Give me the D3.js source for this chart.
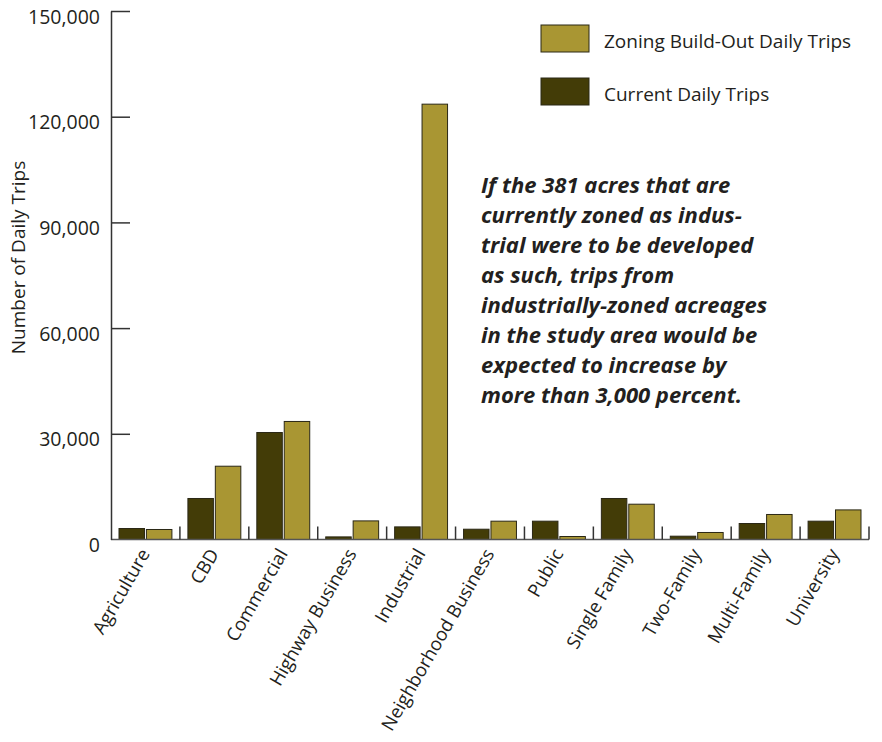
<!DOCTYPE html>
<html>
<head>
<meta charset="utf-8">
<script src="https://cdn.jsdelivr.net/npm/d3@7/dist/d3.min.js"></script>
<style>
  html, body { margin: 0; padding: 0; background: #fff; }
  svg { display: block; }
  text { font-family: "Open Sans", "Noto Sans", sans-serif; fill: #231f20; }
</style>
</head>
<body>
<svg id="chart" width="882" height="742"></svg>
<script>
const categories = ["Agriculture", "CBD", "Commercial", "Highway Business", "Industrial",
  "Neighborhood Business", "Public", "Single Family", "Two-Family", "Multi-Family", "University"];
const currentTrips = [3120, 11640, 30370, 740, 3580, 2920, 5200, 11640, 940, 4540, 5200];
const buildOutTrips = [2840, 20800, 33500, 5280, 123560, 5200, 850, 10020, 1990, 7100, 8400];
const seriesNames = ["Current Daily Trips", "Zoning Build-Out Daily Trips"];
const yTicks = [0, 30000, 60000, 90000, 120000, 150000];
const yTitle = "Number of Daily Trips";
const noteLines = [
  "If the 381 acres that are",
  "currently zoned as indus-",
  "trial were to be developed",
  "as such, trips from",
  "industrially-zoned acreages",
  "in the study area would be",
  "expected to increase by",
  "more than 3,000 percent."
];

const colors = { "Current Daily Trips": "#433c07", "Zoning Build-Out Daily Trips": "#a99633" };

const svg = d3.select("#chart");
const mLeft = 111, mRight = 869, mTop = 11, mBottom = 539.5;

const x = d3.scaleBand().domain(categories).range([mLeft, mRight]).padding(0);
const xs = d3.scaleBand().domain(seriesNames).range([8, x.bandwidth() - 8]).paddingInner(0.07);
const y = d3.scaleLinear().domain([0, 150000]).range([mBottom, mTop]);

const rows = categories.map((c, i) => ({ cat: c, values: [
  { key: seriesNames[0], v: currentTrips[i] },
  { key: seriesNames[1], v: buildOutTrips[i] }
]}));

// bars
const g = svg.append("g");
g.selectAll("g.cat").data(rows).join("g")
  .attr("class", "cat")
  .attr("transform", d => `translate(${x(d.cat)},0)`)
  .selectAll("rect").data(d => d.values).join("rect")
  .attr("x", d => xs(d.key))
  .attr("width", xs.bandwidth())
  .attr("y", d => y(d.v))
  .attr("height", d => y(0) - y(d.v))
  .attr("fill", d => colors[d.key])
  .attr("stroke", "#2b2816")
  .attr("stroke-width", 1);

// x axis baseline
svg.append("line").attr("x1", mLeft).attr("x2", mRight).attr("y1", mBottom).attr("y2", mBottom)
  .attr("stroke", "#555").attr("stroke-width", 1.5);
// x category separator ticks (upward)
svg.selectAll("line.xt").data(categories).join("line").attr("class", "xt")
  .attr("x1", d => x(d) + x.bandwidth()).attr("x2", d => x(d) + x.bandwidth())
  .attr("y1", mBottom).attr("y2", mBottom - 13)
  .attr("stroke", "#333").attr("stroke-width", 1.5);

// x labels
svg.selectAll("text.xl").data(categories).join("text").attr("class", "xl")
  .attr("transform", d => `translate(${x(d) + x.bandwidth() / 2 + 5},${mBottom + 14}) rotate(-60)`)
  .attr("text-anchor", "end")
  .style("font-size", "18.5px")
  .text(d => d);

// y axis
const yAxis = d3.axisLeft(y).tickValues(yTicks).tickSizeInner(-19).tickSizeOuter(0).tickPadding(11)
  .tickFormat(d3.format(","));
const ya = svg.append("g").attr("transform", `translate(${mLeft},0)`).call(yAxis);
ya.select(".domain").attr("stroke", "#333").attr("stroke-width", 1.5);
ya.selectAll(".tick line").attr("stroke", "#333").attr("stroke-width", 1.5);
ya.selectAll(".tick text").style("font-size", "19.5px").style("font-family", "'Open Sans', sans-serif")
  .attr("fill", "#231f20").attr("dy", "0.62em");
ya.selectAll(".tick").filter(d => d === 0).select("line").remove();

// y title
svg.append("text")
  .attr("transform", `translate(25,257.5) rotate(-90)`)
  .attr("text-anchor", "middle")
  .style("font-size", "19px")
  .text(yTitle);

// legend (gold first, then dark)
const legendOrder = [seriesNames[1], seriesNames[0]];
const lg = svg.selectAll("g.lg").data(legendOrder).join("g").attr("class", "lg")
  .attr("transform", (d, i) => `translate(541,${25 + i * 53})`);
lg.append("rect").attr("width", 48).attr("height", 27)
  .attr("fill", d => colors[d]).attr("stroke", "#2b2816").attr("stroke-width", 1);
lg.append("text").attr("x", 63).attr("y", 23)
  .style("font-size", "19px").text(d => d);

// annotation
svg.append("text")
  .attr("x", 481).attr("y", 193)
  .style("font-size", "22px").style("font-weight", "700").style("font-style", "italic")
  .selectAll("tspan").data(noteLines).join("tspan")
  .attr("x", 481).attr("dy", (d, i) => i === 0 ? 0 : 30)
  .text(d => d);
</script>
</body>
</html>
